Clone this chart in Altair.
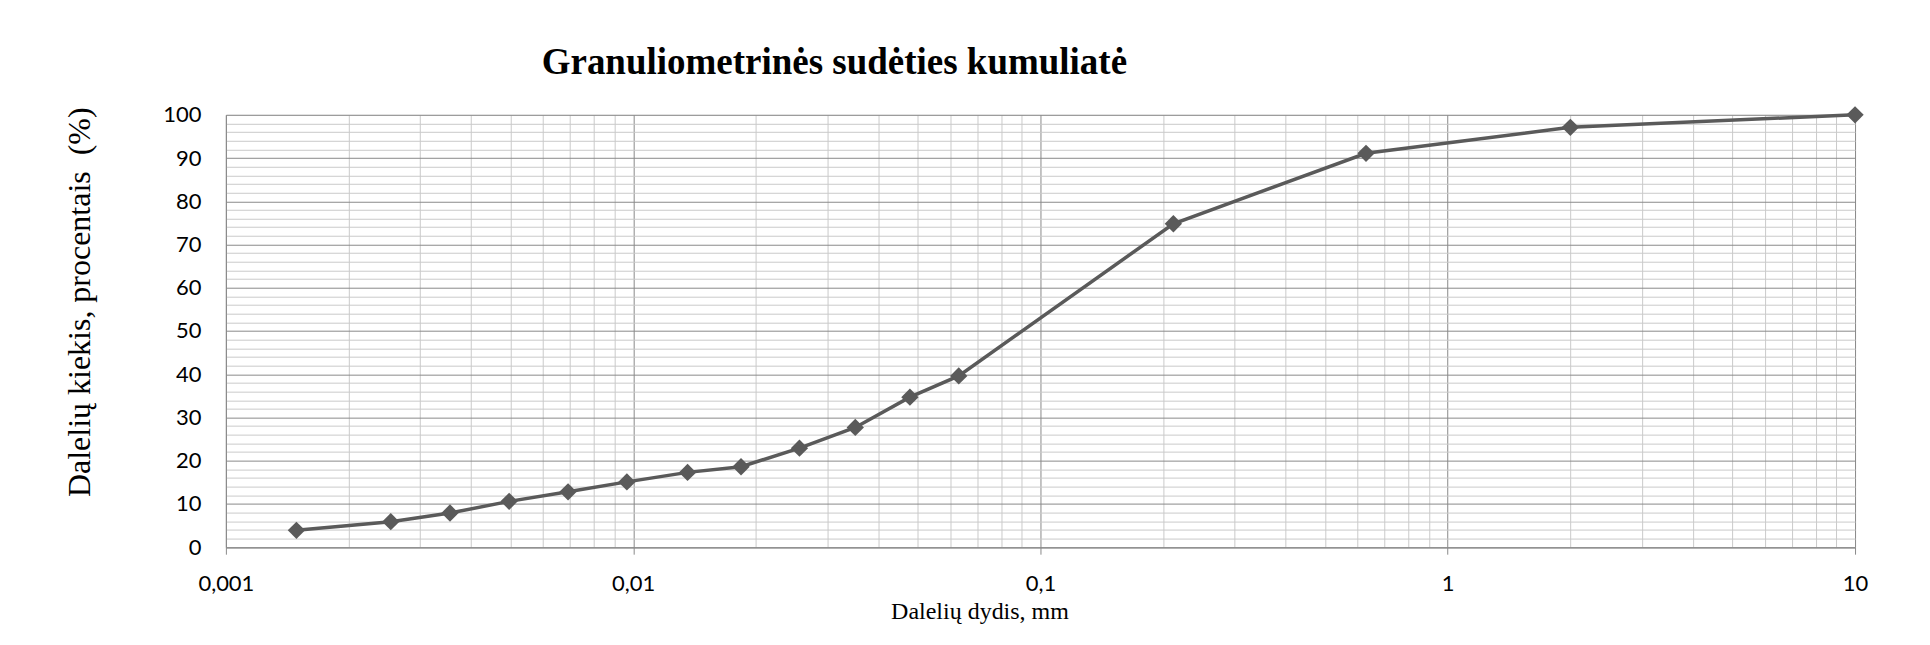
import altair as alt
import pandas as pd

# --- data ---
sizes_mm = [0.00149, 0.00254, 0.00355, 0.00496, 0.00692, 0.00965, 0.0136, 0.0184,
            0.0256, 0.0351, 0.0478, 0.063, 0.212, 0.63, 2.0, 10.0]
cumulative_pct = [3.9, 5.9, 7.9, 10.6, 12.8, 15.1, 17.3, 18.6,
                  22.9, 27.7, 34.7, 39.6, 74.8, 91.1, 97.1, 100.0]

x_major = [0.001, 0.01, 0.1, 1, 10]
x_major_labels = ["0,001", "0,01", "0,1", "1", "10"]
x_minor = [0.002, 0.003, 0.004, 0.005, 0.006, 0.007, 0.008, 0.009,
           0.02, 0.03, 0.04, 0.05, 0.06, 0.07, 0.08, 0.09,
           0.2, 0.3, 0.4, 0.5, 0.6, 0.7, 0.8, 0.9,
           2, 3, 4, 5, 6, 7, 8, 9]
y_grid = [0, 2, 4, 6, 8, 10, 12, 14, 16, 18, 20, 22, 24, 26, 28, 30, 32, 34, 36, 38,
          40, 42, 44, 46, 48, 50, 52, 54, 56, 58, 60, 62, 64, 66, 68, 70, 72, 74, 76,
          78, 80, 82, 84, 86, 88, 90, 92, 94, 96, 98, 100]

title_text = "Granuliometrinės sudėties kumuliatė"
x_title = "Dalelių dydis, mm"
y_title = "Dalelių kiekis, procentais \u00a0(%)"

df = pd.DataFrame({"size": sizes_mm, "pct": cumulative_pct})

MAJOR = "#8a8a8a"
MINOR = "#cacaca"
LINE = "#5a5a5a"

major_test = " || ".join(f"abs(datum.value - {v}) < {v * 1e-6}" for v in x_major)
label_expr = ""
for v, lab in zip(x_major, x_major_labels):
    label_expr += f"abs(datum.value - {v}) < {v * 1e-6} ? '{lab}' : "
label_expr += "''"

x_axis = alt.Axis(
    values=sorted(x_major + x_minor),
    labelExpr=label_expr,
    grid=True,
    gridColor={"condition": {"test": major_test, "value": MAJOR}, "value": MINOR},
    gridWidth=1,
    tickColor={"condition": {"test": major_test, "value": MAJOR}, "value": "transparent"},
    tickSize=7,
    labelPadding=19,
    labelFont="Lato",
    labelFontSize=22,
    labelColor="#000000",
    labelFlush=False,
    labelOverlap=False,
    domainColor=MAJOR,
    title=x_title,
    titleFont="Liberation Serif",
    titleFontSize=24,
    titleFontWeight="normal",
    titleColor="#000000",
    titleX=754,
    titleY=71,
    titleAlign="center",
    titleBaseline="alphabetic",
)

y_axis = alt.Axis(
    values=y_grid,
    labelExpr="datum.value % 10 == 0 ? datum.label : ''",
    grid=True,
    gridColor={"condition": {"test": "datum.value % 10 == 0", "value": MAJOR}, "value": MINOR},
    gridWidth=1,
    ticks=False,
    labelPadding=25,
    labelFont="Lato",
    labelFontSize=22,
    labelColor="#000000",
    labelOverlap=False,
    labelFlush=False,
    domainColor=MAJOR,
    title=y_title,
    titleFont="Liberation Serif",
    titleFontSize=32,
    titleFontWeight="normal",
    titleColor="#000000",
    titleAngle=270,
    titleX=-136,
    titleY=187,
    titleAlign="center",
    titleBaseline="alphabetic",
)

chart = (
    alt.Chart(df)
    .mark_line(
        color=LINE,
        strokeWidth=3.5,
        point=alt.OverlayMarkDef(shape="diamond", size=300, filled=True, color=LINE, opacity=1),
    )
    .encode(
        x=alt.X("size:Q", scale=alt.Scale(type="log", domain=[0.001, 10], nice=False), axis=x_axis),
        y=alt.Y("pct:Q", scale=alt.Scale(domain=[0, 100], nice=False), axis=y_axis),
    )
    .properties(
        width=1630,
        height=432.6,
        title=alt.TitleParams(
            text=title_text,
            font="Liberation Serif",
            fontSize=37,
            fontWeight="bold",
            color="#000000",
            anchor="start",
            frame="group",
            dx=316,
            offset=22,
        ),
        autosize=alt.AutoSizeParams(type="none"),
        padding={"left": 218, "top": 106.7, "right": 67, "bottom": 90},
    )
    .configure_view(strokeWidth=0)
    .configure(background="white")
)

chart.save("out.html", embed_options={"renderer": "svg", "actions": False})
